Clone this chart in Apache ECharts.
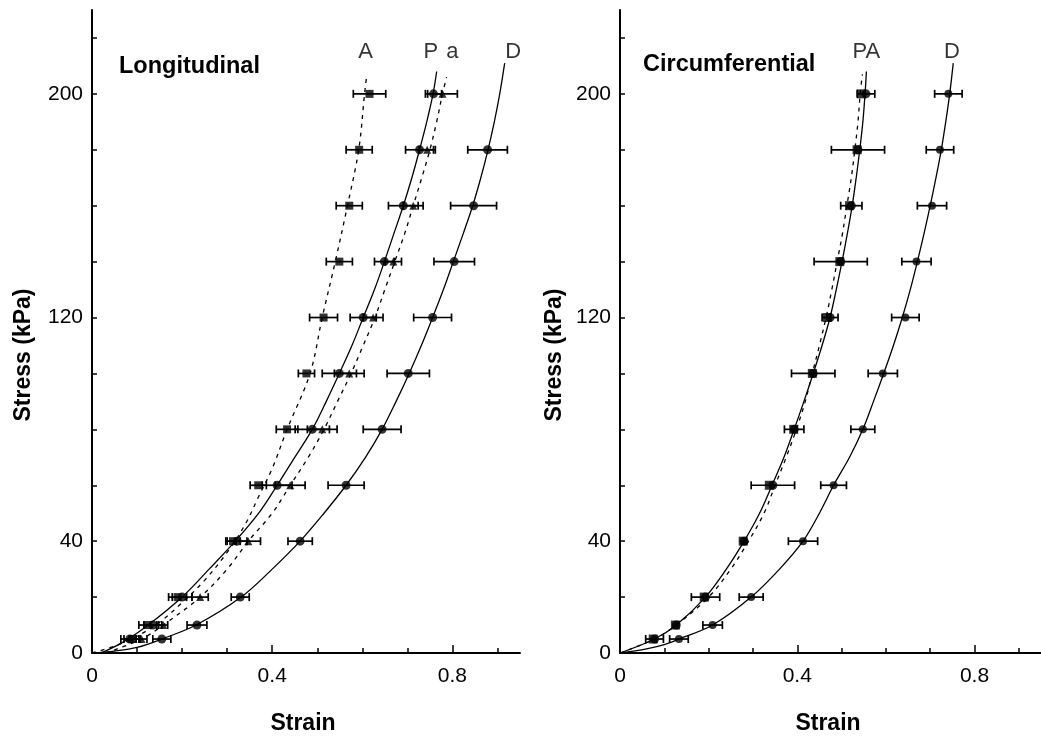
<!DOCTYPE html>
<html>
<head>
<meta charset="utf-8">
<script src="https://cdn.jsdelivr.net/npm/echarts@6/dist/echarts.min.js"></script>
<style>html,body{margin:0;padding:0;background:#fff}#c{width:1041px;height:738px}</style>
</head>
<body>
<div id="c"></div>
<script>
// ---------- data ----------
const xTickLabels = [0, 0.4, 0.8];
const yTickLabels = [0, 40, 120, 200];
const xMinorTicks = [0, 0.1, 0.2, 0.3, 0.4, 0.5, 0.6, 0.7, 0.8, 0.9];
const xMajorTicks = [0.4, 0.8];
const yMinorTicks = [0, 20, 40, 60, 80, 100, 120, 140, 160, 180, 200, 220];

const stressLevels = [5, 10, 20, 40, 60, 80, 100, 120, 140, 160, 180, 200];

// Longitudinal panel (strain at each stress level, and half-width of error bar)
const longA_strain = [0.089, 0.124, 0.19, 0.313, 0.369, 0.433, 0.476, 0.514, 0.549, 0.571, 0.593, 0.616];
const longA_err    = [0.018, 0.02, 0.02, 0.016, 0.018, 0.024, 0.018, 0.031, 0.029, 0.029, 0.029, 0.036];
const longP_strain = [0.084, 0.135, 0.2, 0.322, 0.411, 0.489, 0.549, 0.602, 0.649, 0.691, 0.727, 0.758];
const longP_err    = [0.02, 0.02, 0.022, 0.022, 0.033, 0.038, 0.038, 0.029, 0.022, 0.033, 0.031, 0.018];
const longa_strain = [0.11, 0.158, 0.24, 0.347, 0.44, 0.511, 0.571, 0.624, 0.669, 0.713, 0.744, 0.778];
const longa_err    = [0.012, 0.01, 0.018, 0.027, 0.033, 0.033, 0.033, 0.022, 0.018, 0.022, 0.018, 0.033];
const longD_stress = [5, 10, 20, 40, 60, 80, 100, 120, 140, 160, 180];
const longD_strain = [0.155, 0.233, 0.329, 0.462, 0.564, 0.644, 0.702, 0.756, 0.804, 0.847, 0.878];
const longD_err    = [0.02, 0.022, 0.02, 0.027, 0.04, 0.042, 0.047, 0.042, 0.045, 0.051, 0.044];

// fitted curves: [strain, stress]
const longP_curve = [[0.02,0],[0.07,4],[0.125,10],[0.2,20],[0.26,30],[0.318,40],[0.37,50],[0.411,60],[0.45,70],[0.489,80],[0.52,90],[0.549,100],[0.577,110],[0.602,120],[0.627,130],[0.649,140],[0.67,150],[0.691,160],[0.71,170],[0.727,180],[0.743,190],[0.757,200],[0.765,208]];
const longA_curve = [[0,0],[0.05,2.5],[0.1,6],[0.15,11],[0.2,18],[0.25,26],[0.3,36],[0.34,46],[0.37,56],[0.4,66],[0.433,80],[0.484,100],[0.511,120],[0.54,140],[0.567,160],[0.592,180],[0.605,200],[0.61,207]];
const longa_curve = [[0.03,0],[0.11,5],[0.158,10],[0.24,20],[0.3,30],[0.347,40],[0.4,50],[0.44,60],[0.48,70],[0.515,80],[0.545,90],[0.575,100],[0.602,110],[0.628,120],[0.65,130],[0.672,140],[0.694,150],[0.713,160],[0.732,170],[0.75,180],[0.765,190],[0.778,200],[0.787,206]];
const longD_curve = [[0,0],[0.05,0.7],[0.1,2],[0.155,5],[0.231,10],[0.331,20],[0.4,30],[0.462,40],[0.515,50],[0.564,60],[0.607,70],[0.644,80],[0.675,90],[0.704,100],[0.731,110],[0.756,120],[0.78,130],[0.802,140],[0.824,150],[0.845,160],[0.863,170],[0.879,180],[0.893,190],[0.905,200],[0.916,211]];

// Circumferential panel
const circP_strain = [0.078, 0.127, 0.193, 0.28, 0.345, 0.393, 0.436, 0.474, 0.498, 0.522, 0.537, 0.555];
const circP_err    = [0.02, 0, 0.032, 0, 0.049, 0.022, 0.049, 0.018, 0.06, 0.024, 0.06, 0.02];
const circA_strain = [0.075, 0.125, 0.19, 0.278, 0.337, 0.392, 0.434, 0.468, 0.496, 0.518, 0.535, 0.545];
const circD_strain = [0.133, 0.209, 0.296, 0.413, 0.482, 0.548, 0.593, 0.644, 0.669, 0.704, 0.722, 0.741];
const circD_err    = [0.021, 0.022, 0.027, 0.033, 0.029, 0.027, 0.033, 0.031, 0.033, 0.033, 0.031, 0.031];

const circP_curve = [[0,0],[0.078,5],[0.127,10],[0.193,20],[0.24,30],[0.28,40],[0.315,50],[0.343,60],[0.37,70],[0.393,80],[0.415,90],[0.436,100],[0.456,110],[0.474,120],[0.488,130],[0.501,140],[0.513,150],[0.524,160],[0.533,170],[0.541,180],[0.548,190],[0.553,200],[0.556,208]];
const circA_curve = [[0,0],[0.078,5],[0.127,10],[0.2,20],[0.25,30],[0.29,40],[0.325,50],[0.35,60],[0.375,70],[0.398,80],[0.418,90],[0.434,100],[0.45,110],[0.465,120],[0.478,130],[0.49,140],[0.502,150],[0.512,160],[0.522,170],[0.53,180],[0.537,190],[0.542,200],[0.547,207]];
const circD_curve = [[0,0],[0.06,1.5],[0.1,3],[0.133,5],[0.209,10],[0.296,20],[0.36,30],[0.413,40],[0.45,50],[0.482,60],[0.518,70],[0.548,80],[0.572,90],[0.595,100],[0.617,110],[0.637,120],[0.655,130],[0.671,140],[0.686,150],[0.7,160],[0.713,170],[0.725,180],[0.735,190],[0.744,200],[0.752,211]];

// curve labels: [text, strain, stress]
const longLabels = [['A', 0.607, 215], ['P', 0.752, 215], ['a', 0.8, 215], ['D', 0.935, 215]];
const circLabels = [['PA', 0.556, 215], ['D', 0.749, 215]];

// ---------- helpers ----------
const FONT = '"Liberation Sans", Arial, Helvetica, sans-serif';
const zip = (xs, ys) => xs.map((x, i) => [x, ys[i]]);
const errData = (xs, es, ys) => xs.map((x, i) => [x, es[i], ys[i]]);

function errorSeries(idx, data) {
  return {
    type: 'custom', xAxisIndex: idx, yAxisIndex: idx, z: 3,
    encode: { x: 0, y: 2 },
    data: data,
    renderItem: function (params, api) {
      const x = api.value(0), e = api.value(1), y = api.value(2);
      if (!e) return null;
      const p1 = api.coord([x - e, y]);
      const p2 = api.coord([x + e, y]);
      const h = 4;
      const st = { stroke: '#000', lineWidth: 1.7 };
      return { type: 'group', children: [
        { type: 'line', shape: { x1: p1[0], y1: p1[1], x2: p2[0], y2: p2[1] }, style: st },
        { type: 'line', shape: { x1: p1[0], y1: p1[1] - h, x2: p1[0], y2: p1[1] + h }, style: st },
        { type: 'line', shape: { x1: p2[0], y1: p2[1] - h, x2: p2[0], y2: p2[1] + h }, style: st }
      ]};
    }
  };
}
function curve(idx, data, dashed) {
  return {
    type: 'line', xAxisIndex: idx, yAxisIndex: idx, data: data, smooth: 0.35,
    showSymbol: false, symbol: 'none', z: 2,
    lineStyle: { color: '#000', width: 1.3, type: dashed ? [4, 5] : 'solid' }
  };
}
function points(idx, data, symbol, size) {
  return {
    type: 'scatter', xAxisIndex: idx, yAxisIndex: idx, data: data, z: 4,
    symbol: symbol, symbolSize: size, itemStyle: { color: '#000' }
  };
}
function labels(idx, list) {
  return {
    type: 'scatter', xAxisIndex: idx, yAxisIndex: idx, z: 5, symbolSize: 0,
    data: list.map(l => ({ value: [l[1], l[2]], name: l[0] })),
    label: { show: true, position: 'inside', formatter: p => p.name,
      color: '#000', fontFamily: FONT, fontSize: 22 }
  };
}
function xAxis(idx) {
  return {
    type: 'value', gridIndex: idx, min: 0, max: 0.95, position: 'bottom',
    axisLine: { show: true, lineStyle: { color: '#000', width: 2 } },
    axisTick: { show: true, inside: true, length: 5, customValues: xMinorTicks, lineStyle: { color: '#000', width: 1.5 } },
    axisLabel: { show: true, customValues: xTickLabels, margin: 13, color: '#000', fontFamily: FONT, fontSize: 21,
      formatter: v => String(v) },
    splitLine: { show: false }
  };
}
function xMajorAxis(idx) {
  return {
    type: 'value', gridIndex: idx, min: 0, max: 0.95, position: 'bottom',
    axisLine: { show: false },
    axisTick: { show: true, inside: true, length: 8, customValues: xMajorTicks, lineStyle: { color: '#000', width: 1.5 } },
    axisLabel: { show: false },
    splitLine: { show: false }
  };
}
function yAxis(idx) {
  return {
    type: 'value', gridIndex: idx, min: 0, max: 230,
    axisLine: { show: true, lineStyle: { color: '#000', width: 2 } },
    axisTick: { show: true, inside: true, length: 5, customValues: yMinorTicks, lineStyle: { color: '#000', width: 1.5 } },
    axisLabel: { show: true, customValues: yTickLabels, margin: 9, color: '#000', fontFamily: FONT, fontSize: 21 },
    splitLine: { show: false }
  };
}

const chart = echarts.init(document.getElementById('c'), null, { renderer: 'canvas' });
chart.setOption({
  animation: false,
  backgroundColor: '#fff',
  grid: [
    { left: 92, top: 10, width: 428, height: 643 },
    { left: 620, top: 10, width: 428, height: 643 }
  ],
  xAxis: [xAxis(0), xAxis(1), xMajorAxis(0), xMajorAxis(1)],
  yAxis: [yAxis(0), yAxis(1)],
  graphic: [
    { type: 'text', x: 119, y: 67, style: { text: 'Longitudinal', fontFamily: FONT, fontWeight: 'bold', fontSize: 23.5, fill: '#000', textVerticalAlign: 'middle' } },
    { type: 'text', x: 643, y: 65, style: { text: 'Circumferential', fontFamily: FONT, fontWeight: 'bold', fontSize: 23.5, fill: '#000', textVerticalAlign: 'middle' } },
    { type: 'text', x: 24, y: 355, rotation: Math.PI / 2, style: { text: 'Stress (kPa)', fontFamily: FONT, fontWeight: 'bold', fontSize: 23, fill: '#000', textAlign: 'center', textVerticalAlign: 'middle' } },
    { type: 'text', x: 555, y: 355, rotation: Math.PI / 2, style: { text: 'Stress (kPa)', fontFamily: FONT, fontWeight: 'bold', fontSize: 23, fill: '#000', textAlign: 'center', textVerticalAlign: 'middle' } },
    { type: 'text', x: 303, y: 724, style: { text: 'Strain', fontFamily: FONT, fontWeight: 'bold', fontSize: 23, fill: '#000', textAlign: 'center', textVerticalAlign: 'middle' } },
    { type: 'text', x: 828, y: 724, style: { text: 'Strain', fontFamily: FONT, fontWeight: 'bold', fontSize: 23, fill: '#000', textAlign: 'center', textVerticalAlign: 'middle' } }
  ],
  series: [
    curve(0, longP_curve, false),
    curve(0, longA_curve, true),
    curve(0, longa_curve, true),
    curve(0, longD_curve, false),
    errorSeries(0, errData(longA_strain, longA_err, stressLevels)),
    errorSeries(0, errData(longP_strain, longP_err, stressLevels)),
    errorSeries(0, errData(longa_strain, longa_err, stressLevels)),
    errorSeries(0, errData(longD_strain, longD_err, longD_stress)),
    points(0, zip(longA_strain, stressLevels), 'rect', 8),
    points(0, zip(longP_strain, stressLevels), 'circle', 9),
    points(0, zip(longa_strain, stressLevels), 'triangle', 8),
    points(0, zip(longD_strain, longD_stress), 'circle', 9),
    labels(0, longLabels),

    curve(1, circP_curve, false),
    curve(1, circA_curve, true),
    curve(1, circD_curve, false),
    errorSeries(1, errData(circP_strain, circP_err, stressLevels)),
    errorSeries(1, errData(circD_strain, circD_err, stressLevels)),
    points(1, zip(circA_strain, stressLevels), 'rect', 9),
    points(1, zip(circP_strain, stressLevels), 'circle', 9),
    points(1, zip(circD_strain, stressLevels), 'circle', 8),
    labels(1, circLabels)
  ]
});
</script>
</body>
</html>
